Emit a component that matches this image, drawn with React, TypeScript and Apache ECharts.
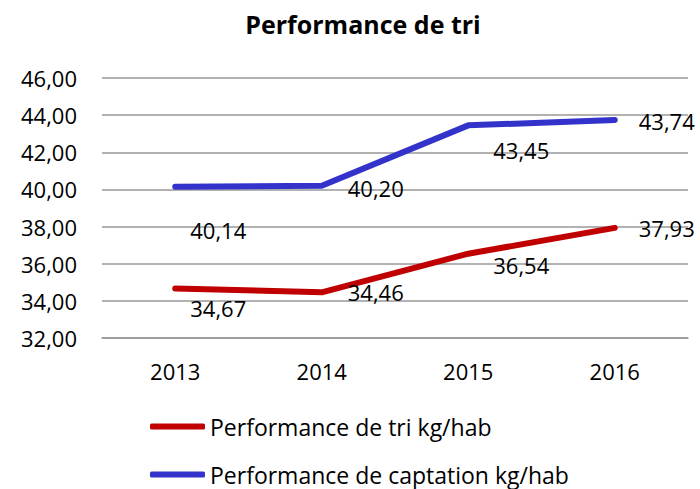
import React, { useEffect, useRef } from "react";
import * as echarts from "echarts";

const categories = ["2013", "2014", "2015", "2016"];
const triValues = [34.67, 34.46, 36.54, 37.93];
const captationValues = [40.14, 40.2, 43.45, 43.74];
const seriesNames = ["Performance de tri kg/hab", "Performance de captation kg/hab"];
const seriesColors = ["#C00000", "#3333CC"];
const title = "Performance de tri";

// label offsets (style only)
const triLabelOffsets = [[-6, 20], [5, 0], [4, 11], [3, 0]];
const capLabelOffsets = [[-6, 43], [5, 2], [4, 25], [3, 1]];

const fmt = (v: number) => v.toFixed(2).replace(".", ",");
const FONT = "'Open Sans', sans-serif";

export default function App() {
  const ref = useRef<HTMLDivElement>(null);
  useEffect(() => {
    if (!ref.current) return;
    const chart = echarts.init(ref.current, undefined, { renderer: "svg" });
    const mk = (vals: number[], offs: number[][]) =>
      vals.map((v, i) => ({ value: v, label: { offset: offs[i] } }));
    const labelCfg = {
      show: true,
      position: "right",
      distance: 20,
      fontFamily: FONT,
      fontSize: 22,
      color: "#000",
      formatter: (p: any) => fmt(p.value),
    };
    chart.setOption({
      animation: false,
      textStyle: { fontFamily: FONT },
      title: {
        text: title,
        left: 358,
        top: 6,
        textAlign: "center",
        textStyle: { fontFamily: FONT, fontWeight: "bold", fontSize: 25, color: "#000" },
      },
      grid: { left: 102, right: 12, top: 78, bottom: 151 },
      legend: {
        orient: "vertical",
        left: 150,
        top: 415,
        height: 72,
        icon: "roundRect",
        itemWidth: 55,
        itemHeight: 6,
        itemGap: 25,
        padding: 0,
        data: seriesNames.map((n, i) => ({ name: n, itemStyle: { color: seriesColors[i] } })),
        textStyle: { fontFamily: FONT, fontSize: 23, color: "#000", lineHeight: 23 },
      },
      xAxis: {
        type: "category",
        data: categories,
        boundaryGap: true,
        axisLine: { show: true, lineStyle: { color: "#999", width: 1.5 } },
        axisTick: { show: false },
        axisLabel: { fontFamily: FONT, fontSize: 22, color: "#000", margin: 22 },
      },
      yAxis: {
        type: "value",
        min: 32,
        max: 46,
        interval: 2,
        axisLine: { show: false },
        axisTick: { show: false },
        splitLine: { lineStyle: { color: "#999", width: 1.5 } },
        axisLabel: { fontFamily: FONT, fontSize: 22, color: "#000", margin: 25, formatter: (v: number) => fmt(v) },
      },
      series: [
        {
          name: seriesNames[0],
          type: "line",
          data: mk(triValues, triLabelOffsets),
          symbol: "circle",
          symbolSize: 2,
          showSymbol: true,
          lineStyle: { color: seriesColors[0], width: 6, cap: "round" },
          itemStyle: { color: seriesColors[0] },
          label: labelCfg,
        },
        {
          name: seriesNames[1],
          type: "line",
          data: mk(captationValues, capLabelOffsets),
          symbol: "circle",
          symbolSize: 2,
          showSymbol: true,
          lineStyle: { color: seriesColors[1], width: 6, cap: "round" },
          itemStyle: { color: seriesColors[1] },
          label: labelCfg,
        },
      ],
    });
    return () => chart.dispose();
  }, []);
  return (
    <div
      ref={ref}
      style={{ position: "fixed", left: 0, top: 0, width: 700, height: 489, background: "#fff" }}
    />
  );
}
